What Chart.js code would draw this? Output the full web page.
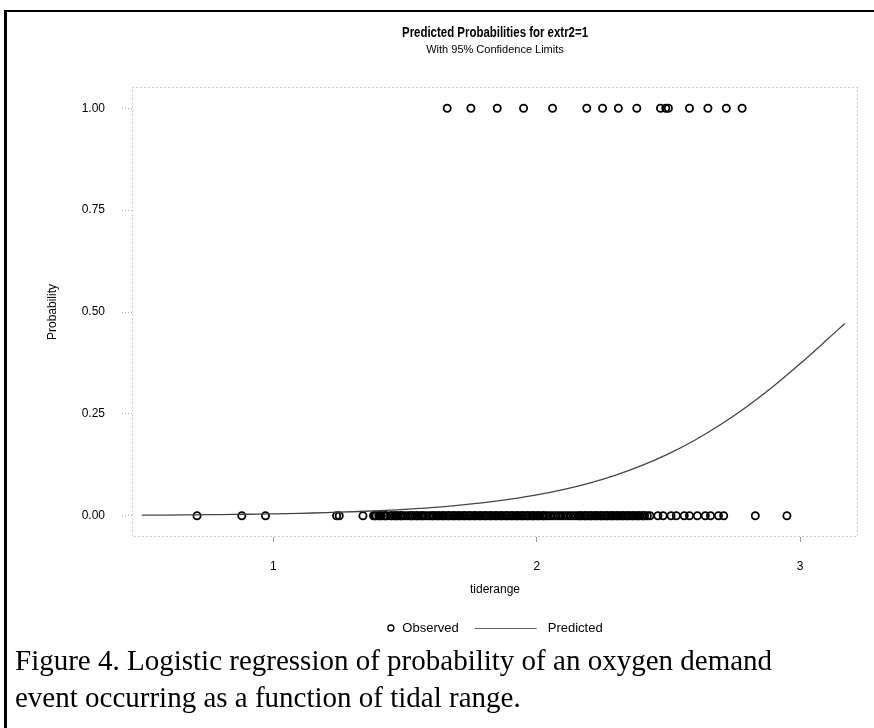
<!DOCTYPE html>
<html>
<head>
<meta charset="utf-8">
<script src="https://cdn.jsdelivr.net/npm/chart.js@4.4.1/dist/chart.umd.min.js"></script>
<style>
  html, body { margin: 0; padding: 0; background: #fff; }
  #wrap { position: relative; width: 874px; height: 728px; overflow: hidden; }
  #frame { position: absolute; left: 4px; top: 10px; width: 880px; height: 730px;
           border-left: 3px solid #000; border-top: 2px solid #000; }
  #c { position: absolute; left: 0; top: 0; }
  #caption { position: absolute; left: 15px; top: 642px; width: 856px;
             font-family: "Liberation Serif", "Times New Roman", serif; font-size: 29px;
             line-height: 37px; color: #000; white-space: nowrap; }
</style>
</head>
<body>
<div id="wrap">
  <div id="frame"></div>
  <canvas id="c" width="874" height="728"></canvas>
  <div id="caption">Figure 4. Logistic regression of probability of an oxygen demand<br>event occurring as a function of tidal range.</div>
</div>
<script>
// ---- data ----
const observedZeroX = [0.71, 0.88, 0.97, 1.24, 1.25, 1.34, 1.38, 1.385, 1.39, 1.40, 1.405,
  1.41, 1.42, 1.425, 1.43, 1.445, 1.45, 1.46, 1.465, 1.47, 1.48, 1.485, 1.49, 1.50, 1.51, 1.52,
  1.525, 1.53, 1.54, 1.545, 1.55, 1.56, 1.565, 1.57, 1.58, 1.59, 1.60, 1.605, 1.61, 1.62, 1.625,
  1.63, 1.64, 1.645, 1.65, 1.66, 1.665, 1.67, 1.68, 1.685, 1.69, 1.70, 1.705, 1.71, 1.72, 1.725,
  1.73, 1.74, 1.745, 1.75, 1.76, 1.765, 1.77, 1.78, 1.785, 1.79, 1.80, 1.805, 1.81, 1.82, 1.825,
  1.83, 1.84, 1.845, 1.85, 1.86, 1.865, 1.87, 1.88, 1.885, 1.89, 1.90, 1.905, 1.91, 1.92, 1.925,
  1.93, 1.94, 1.945, 1.95, 1.96, 1.965, 1.97, 1.98, 1.985, 1.99, 2.00, 2.005, 2.01, 2.02, 2.025,
  2.03, 2.04, 2.05, 2.06, 2.07, 2.08, 2.09, 2.10, 2.11, 2.12, 2.13, 2.14, 2.15, 2.16, 2.165,
  2.17, 2.18, 2.185, 2.19, 2.20, 2.205, 2.21, 2.22, 2.225, 2.23, 2.24, 2.245, 2.25, 2.26, 2.265,
  2.27, 2.28, 2.285, 2.29, 2.30, 2.305, 2.31, 2.32, 2.325, 2.33, 2.34, 2.345, 2.35, 2.36, 2.365,
  2.37, 2.38, 2.385, 2.39, 2.40, 2.405, 2.41, 2.42, 2.43, 2.46, 2.48, 2.51, 2.53, 2.56, 2.58,
  2.61, 2.64, 2.66, 2.69, 2.71, 2.83, 2.95];
const observedOneX = [1.66, 1.75, 1.85, 1.95, 2.06, 2.19, 2.25, 2.31, 2.38, 2.47, 2.49, 2.50,
  2.58, 2.65, 2.72, 2.78];
const predictedX = [0.50, 0.60, 0.70, 0.80, 0.90, 1.00, 1.10, 1.20, 1.30, 1.40, 1.50, 1.60,
  1.70, 1.80, 1.90, 2.00, 2.10, 2.20, 2.30, 2.40, 2.50, 2.60, 2.70, 2.80, 2.90, 3.00, 3.10, 3.17];
const predictedP = [0.0015, 0.0019, 0.0024, 0.0030, 0.0038, 0.0049, 0.0062, 0.0078, 0.0100,
  0.0126, 0.0160, 0.0202, 0.0256, 0.0323, 0.0407, 0.0511, 0.0642, 0.0802, 0.0998, 0.1235,
  0.1519, 0.1854, 0.2245, 0.2689, 0.3186, 0.3729, 0.4305, 0.4720];
const xTicks = [1, 2, 3];
const yTicks = [0, 0.25, 0.5, 0.75, 1];
const titleText = "Predicted Probabilities for extr2=1";
const subtitleText = "With 95% Confidence Limits";
const xTitle = "tiderange";
const yTitle = "Probability";
const legendLabels = ["Observed", "Predicted"];

const observedPoints = observedZeroX.map(x => ({x, y: 0})).concat(observedOneX.map(x => ({x, y: 1})));
const predictedPoints = predictedX.map((x, i) => ({x, y: predictedP[i]}));

const FONT = '"Liberation Sans", Arial, sans-serif';
const C_W = 874;
const AREA = { left: 132, right: 858, top: 87 };

const framePlugin = {
  id: 'frame',
  beforeDatasetsDraw(chart) {
    const {ctx, chartArea: a} = chart;
    ctx.save();
    ctx.strokeStyle = '#9a9a9a';
    ctx.lineWidth = 1;
    ctx.setLineDash([1, 3]);
    ctx.strokeRect(a.left + 0.5, a.top + 0.5, a.right - a.left - 1, a.bottom - a.top - 1);
    ctx.restore();
  },
  afterDraw(chart) {
    const {ctx, chartArea: a} = chart;
    const cx = (a.left + a.right) / 2;
    ctx.save();
    ctx.fillStyle = '#000';
    ctx.textBaseline = 'middle';
    ctx.textAlign = 'center';
    // title (condensed bold)
    ctx.font = 'bold 14px ' + FONT;
    const tw = ctx.measureText(titleText).width;
    const sx = Math.min(1, 186 / tw);
    ctx.save();
    ctx.translate(cx, 33);
    ctx.scale(sx, 1);
    ctx.fillText(titleText, 0, 0);
    ctx.restore();
    // subtitle
    ctx.font = '11px ' + FONT;
    ctx.fillText(subtitleText, cx, 50);
    // legend
    const y = 628;
    ctx.textAlign = 'left';
    ctx.font = '13px ' + FONT;
    const w1 = ctx.measureText(legendLabels[0]).width;
    const w2 = ctx.measureText(legendLabels[1]).width;
    const lineLen = 62;
    const total = 15 + w1 + 16 + lineLen + 11 + w2;
    let x = cx - total / 2;
    ctx.beginPath();
    ctx.lineWidth = 1.3;
    ctx.strokeStyle = '#000';
    ctx.arc(x + 3.5, y, 3, 0, Math.PI * 2);
    ctx.stroke();
    x += 15;
    ctx.fillText(legendLabels[0], x, y);
    x += w1 + 16;
    ctx.beginPath();
    ctx.strokeStyle = '#666';
    ctx.lineWidth = 1;
    ctx.moveTo(x, y + 0.5); ctx.lineTo(x + lineLen, y + 0.5);
    ctx.stroke();
    x += lineLen + 11;
    ctx.fillText(legendLabels[1], x, y);
    ctx.restore();
  }
};

new Chart(document.getElementById('c'), {
  data: {
    datasets: [
      { type: 'line', label: legendLabels[1], data: predictedPoints, borderColor: '#444',
        borderWidth: 1.3, pointRadius: 0, tension: 0.4, fill: false, order: 1 },
      { type: 'scatter', label: legendLabels[0], data: observedPoints, pointRadius: 3.6,
        pointBorderWidth: 1.8, pointBorderColor: '#000', pointBackgroundColor: 'rgba(0,0,0,0)',
        order: 2 }
    ]
  },
  options: {
    responsive: false,
    animation: false,
    devicePixelRatio: 1,
    layout: { padding: { left: 0, right: C_W - AREA.right, top: AREA.top, bottom: 123 } },
    plugins: {
      legend: { display: false },
      tooltip: { enabled: false },
      title: { display: false },
      subtitle: { display: false }
    },
    scales: {
      x: {
        type: 'linear', min: 0.463, max: 3.22,
        afterBuildTicks: s => { s.ticks = xTicks.map(v => ({value: v})); },
        afterFit: s => { s.height = 68; },
        grid: { display: true, drawOnChartArea: false, drawTicks: true, tickLength: 5, color: '#999' },
        border: { display: false },
        ticks: { color: '#000', font: { family: FONT, size: 12 }, padding: 17, maxRotation: 0,
                 callback: v => String(v) },
        title: { display: true, text: xTitle, color: '#000', font: { family: FONT, size: 12 },
                 padding: { top: 0, bottom: 8 } }
      },
      y: {
        type: 'linear', min: -0.052, max: 1.052,
        afterBuildTicks: s => { s.ticks = yTicks.map(v => ({value: v})); },
        afterFit: s => { s.width = AREA.left; },
        grid: { display: true, drawOnChartArea: false, drawTicks: true, tickLength: 10,
                color: '#aaa', tickBorderDash: [1, 2] },
        border: { display: false },
        ticks: { color: '#000', font: { family: FONT, size: 12 }, padding: 17,
                 callback: v => Number(v).toFixed(2) },
        title: { display: true, text: yTitle, color: '#000', font: { family: FONT, size: 12 },
                 padding: { top: 45, bottom: 0 } }
      }
    }
  },
  plugins: [framePlugin]
});
</script>
</body>
</html>
